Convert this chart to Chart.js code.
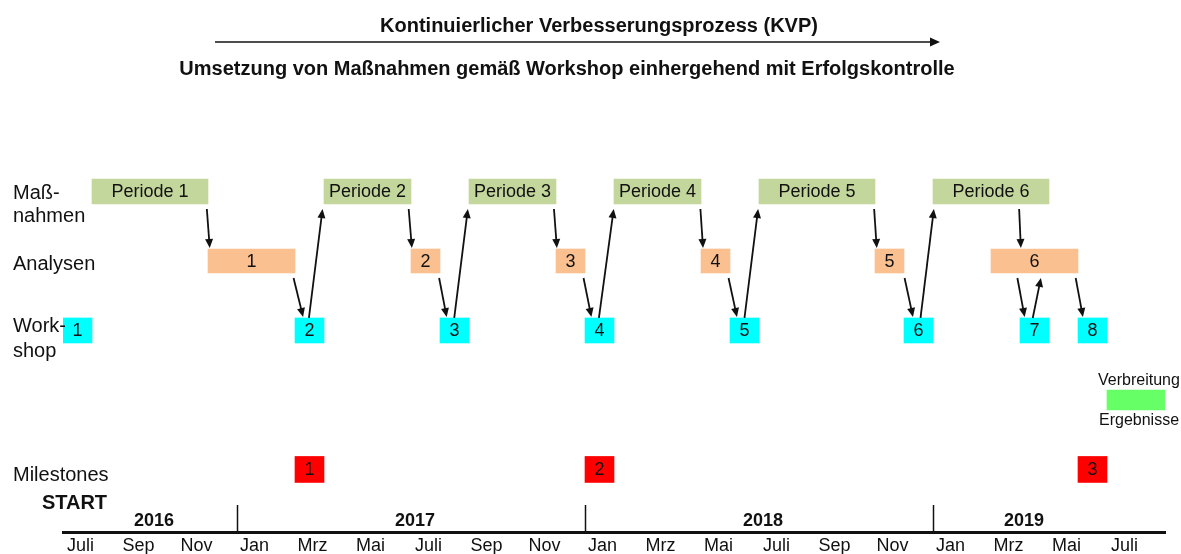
<!DOCTYPE html>
<html lang="de">
<head>
<meta charset="utf-8">
<title>KVP Zeitplan</title>
<script src="https://cdn.jsdelivr.net/npm/chart.js@4.4.1/dist/chart.umd.min.js"></script>
<style>
  html, body { margin: 0; padding: 0; background: #fff; }
  #wrap { position: relative; width: 1181px; height: 554px; }
</style>
</head>
<body>
<div id="wrap"><canvas id="plan"></canvas></div>
<script>
// months are counted from Juli 2016 (= 0); an edge at .5 is a month boundary
const monthTicks = [0, 2, 4, 6, 8, 10, 12, 14, 16, 18, 20, 22, 24, 26, 28, 30, 32, 34, 36];
const monthLabels = ['Juli', 'Sep', 'Nov', 'Jan', 'Mrz', 'Mai', 'Juli', 'Sep', 'Nov', 'Jan',
    'Mrz', 'Mai', 'Juli', 'Sep', 'Nov', 'Jan', 'Mrz', 'Mai', 'Juli'];
const years = ['2016', '2017', '2018', '2019'];
const yearFrom = [-0.5, 5.5, 17.5, 29.5];
const yearTo = [5.5, 17.5, 29.5, 35.5];

// rows: 0 Maßnahmen, 1 Analysen, 2 Workshop, 3 Verbreitung, 4 Milestones
const rowNames = [['Maß-', 'nahmen'], ['Analysen'], ['Work-', 'shop'], [], ['Milestones']];

const periodLabels = ['Periode 1', 'Periode 2', 'Periode 3', 'Periode 4', 'Periode 5', 'Periode 6'];
const periodFrom = [0.5, 8.5, 13.5, 18.5, 23.5, 29.5];
const periodTo = [4.5, 11.5, 16.5, 21.5, 27.5, 33.5];

const analysisLabels = ['1', '2', '3', '4', '5', '6'];
const analysisFrom = [4.5, 11.5, 16.5, 21.5, 27.5, 31.5];
const analysisTo = [7.5, 12.5, 17.5, 22.5, 28.5, 34.5];

const workshopLabels = ['1', '2', '3', '4', '5', '6', '7', '8'];
const workshopFrom = [-0.5, 7.5, 12.5, 17.5, 22.5, 28.5, 32.5, 34.5];
const workshopTo = [0.5, 8.5, 13.5, 18.5, 23.5, 29.5, 33.5, 35.5];

const spreadFrom = [35.5];
const spreadTo = [37.5];

const milestoneLabels = ['1', '2', '3'];
const milestoneFrom = [7.5, 17.5, 34.5];
const milestoneTo = [8.5, 18.5, 35.5];

// arrows: start month / row -> end month / row
const arrowFromX = [4.46, 7.45, 7.98, 11.42, 12.47, 12.99, 16.43, 17.45, 17.98, 21.48,
    22.45, 23.0, 27.47, 28.52, 29.07, 32.47, 32.41, 32.94, 34.42];
const arrowFromRow = [0, 1, 2, 0, 1, 2, 0, 1, 2, 0, 1, 2, 0, 1, 2, 0, 1, 2, 1];
const arrowToX = [4.56, 7.78, 8.45, 11.53, 12.73, 13.46, 16.53, 17.72, 18.49, 21.57,
    22.74, 23.47, 27.56, 28.81, 29.53, 32.53, 32.66, 33.22, 34.67];
const arrowToRow = [1, 2, 0, 1, 2, 0, 1, 2, 0, 1, 2, 0, 1, 2, 0, 1, 2, 1, 2];

const rowThickness = [25, 24, 25, 20, 26];
const FONT = "'Liberation Sans', Arial, Helvetica, sans-serif";
const INK = '#111';

Chart.defaults.font.family = FONT;
Chart.defaults.color = INK;

function bars(from, to, row) {
    return from.map((f, i) => ({ x: [f, to[i]], y: row }));
}

function arrowHead(ctx, x1, y1, x2, y2, len, half) {
    const a = Math.atan2(y2 - y1, x2 - x1);
    ctx.beginPath();
    ctx.moveTo(x1, y1);
    ctx.lineTo(x2 - Math.cos(a) * (len - 1), y2 - Math.sin(a) * (len - 1));
    ctx.stroke();
    ctx.beginPath();
    ctx.moveTo(x2, y2);
    ctx.lineTo(x2 - Math.cos(a) * len - Math.sin(a) * half, y2 - Math.sin(a) * len + Math.cos(a) * half);
    ctx.lineTo(x2 - Math.cos(a) * len + Math.sin(a) * half, y2 - Math.sin(a) * len - Math.cos(a) * half);
    ctx.closePath();
    ctx.fill();
}

const planDecor = {
    id: 'planDecor',
    afterDatasetsDraw(chart) {
        const ctx = chart.ctx;
        const xs = chart.scales.x, ys = chart.scales.y;
        ctx.save();

        // text inside the boxes
        ctx.fillStyle = INK;
        ctx.textAlign = 'center';
        ctx.textBaseline = 'middle';
        ctx.font = '18px ' + FONT;
        chart.data.datasets.forEach((ds, di) => {
            if (!ds.texts) return;
            chart.getDatasetMeta(di).data.forEach((bar, i) => {
                const p = bar.getProps(['x', 'y', 'base'], true);
                ctx.fillText(ds.texts[i], (p.x + p.base) / 2, p.y + 1);
            });
        });

        // arrows between the rows
        ctx.strokeStyle = INK;
        ctx.lineWidth = 1.8;
        arrowFromX.forEach((fx, k) => {
            const r1 = arrowFromRow[k], r2 = arrowToRow[k];
            const x1 = xs.getPixelForValue(fx), x2 = xs.getPixelForValue(arrowToX[k]);
            const c1 = ys.getPixelForValue(r1), c2 = ys.getPixelForValue(r2);
            let y1, y2;
            if (r2 > r1) {
                y1 = c1 + rowThickness[r1] / 2 + 5;
                y2 = c2 - rowThickness[r2] / 2 - 1;
            } else {
                y1 = c1 - rowThickness[r1] / 2;
                y2 = c2 + rowThickness[r2] / 2 + 5;
            }
            arrowHead(ctx, x1, y1, x2, y2, 9, 4);
        });
        ctx.restore();
    },
    afterDraw(chart) {
        const ctx = chart.ctx;
        const xs = chart.scales.x, ys = chart.scales.y;
        const area = chart.chartArea;
        ctx.save();
        ctx.fillStyle = INK;
        ctx.strokeStyle = INK;

        // headings
        ctx.textAlign = 'center';
        ctx.textBaseline = 'alphabetic';
        ctx.font = 'bold 20px ' + FONT;
        ctx.fillText('Kontinuierlicher Verbesserungsprozess (KVP)', 599, 32);
        ctx.fillText('Umsetzung von Maßnahmen gemäß Workshop einhergehend mit Erfolgskontrolle', 567, 75);
        ctx.lineWidth = 1.5;
        arrowHead(ctx, 215, 42, 940, 42, 10, 4.5);

        // row names
        const offsets = [[8, 31], [9], [2, 27], [], [12]];
        ctx.textAlign = 'left';
        ctx.font = '20px ' + FONT;
        rowNames.forEach((lines, r) => {
            const c = ys.getPixelForValue(r);
            lines.forEach((t, j) => ctx.fillText(t, 13, c + offsets[r][j]));
        });

        // Verbreitung / Ergebnisse
        const sp = chart.getDatasetMeta(3).data[0].getProps(['x', 'y', 'base'], true);
        ctx.textAlign = 'center';
        ctx.font = '16px ' + FONT;
        ctx.fillText('Verbreitung', (sp.x + sp.base) / 2 + 3, sp.y - 15);
        ctx.fillText('Ergebnisse', (sp.x + sp.base) / 2 + 3, sp.y + 25);

        // START, year labels and year separators above the time axis
        ctx.font = 'bold 20px ' + FONT;
        ctx.fillText('START', xs.getPixelForValue(0) - 3, area.bottom - 23);
        ctx.font = 'bold 18px ' + FONT;
        years.forEach((y, i) => {
            const mid = (xs.getPixelForValue(yearFrom[i]) + xs.getPixelForValue(yearTo[i])) / 2;
            ctx.fillText(y, mid + 4, area.bottom - 6);
            if (i > 0) {
                const sx = Math.round(xs.getPixelForValue(yearFrom[i])) + 0.5;
                ctx.lineWidth = 1.5;
                ctx.beginPath();
                ctx.moveTo(sx, area.bottom - 27);
                ctx.lineTo(sx, area.bottom);
                ctx.stroke();
            }
        });
        ctx.restore();
    }
};

new Chart(document.getElementById('plan'), {
    type: 'bar',
    data: {
        datasets: [
            { label: 'Maßnahmen', data: bars(periodFrom, periodTo, 0), texts: periodLabels,
              backgroundColor: '#c3d69b', barThickness: rowThickness[0] },
            { label: 'Analysen', data: bars(analysisFrom, analysisTo, 1), texts: analysisLabels,
              backgroundColor: '#fac090', barThickness: rowThickness[1] },
            { label: 'Workshop', data: bars(workshopFrom, workshopTo, 2), texts: workshopLabels,
              backgroundColor: '#00ffff', barThickness: rowThickness[2] },
            { label: 'Verbreitung Ergebnisse', data: bars(spreadFrom, spreadTo, 3),
              backgroundColor: '#66ff66', barThickness: rowThickness[3] },
            { label: 'Milestones', data: bars(milestoneFrom, milestoneTo, 4), texts: milestoneLabels,
              backgroundColor: '#ff0000', barThickness: rowThickness[4] }
        ]
    },
    options: {
        indexAxis: 'y',
        responsive: true,
        maintainAspectRatio: false,
        animation: false,
        grouped: false,
        layout: { padding: { top: 122, left: 63, right: 16, bottom: -6 } },
        plugins: { legend: { display: false }, tooltip: { enabled: false } },
        scales: {
            x: {
                type: 'linear',
                min: -0.5,
                max: 37.5,
                grid: { display: false, drawTicks: false },
                border: { display: true, color: INK, width: 3 },
                afterBuildTicks: s => { s.ticks = monthTicks.map(v => ({ value: v })); },
                ticks: {
                    autoSkip: false,
                    maxRotation: 0,
                    padding: 5,
                    labelOffset: 3,
                    color: INK,
                    font: { size: 18, lineHeight: 1 },
                    callback: (v, i) => monthLabels[i]
                }
            },
            y: {
                type: 'linear',
                reverse: true,
                offset: false,
                min: -1,
                max: 4.9,
                display: false
            }
        }
    },
    plugins: [planDecor]
});
</script>
</body>
</html>
